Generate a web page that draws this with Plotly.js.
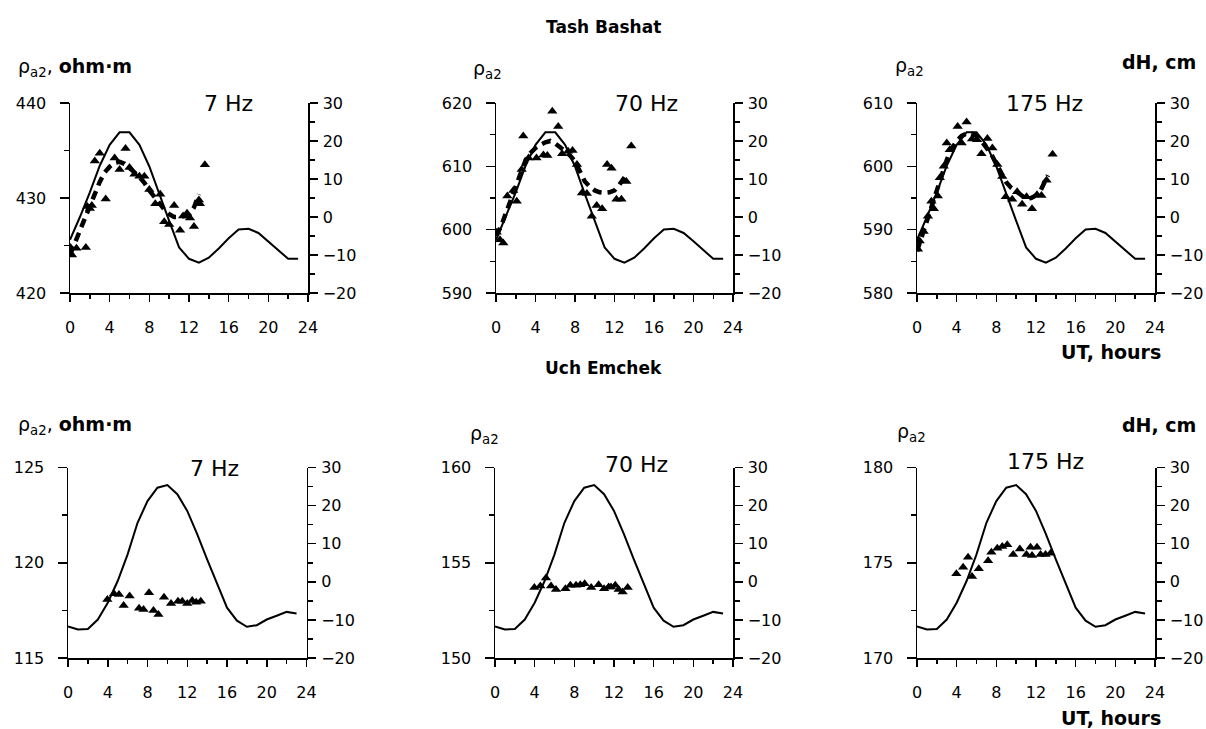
<!DOCTYPE html>
<html>
<head>
<meta charset="utf-8">
<script src="https://cdn.plot.ly/plotly-3.0.1.min.js"></script>
<style>
  html, body { margin: 0; padding: 0; background: #fff; }
  #chart { width: 1206px; height: 729px; }
</style>
</head>
<body>
<div id="chart"></div>
<script>
// Hourly tidal height variation dH (cm), UT hours 0..23
const hours = [0,1,2,3,4,5,6,7,8,9,10,11,12,13,14,15,16,17,18,19,20,21,22,23];
const dhTash = [-6, 0, 6.5, 13.5, 19, 22.3, 22.3, 19, 13.3, 6, -1, -8, -11, -12, -10.7, -8.3, -5.6, -3.3, -3.1, -4.2, -6.4, -8.8, -11, -11];
const dhUch = [-11.7, -12.5, -12.4, -9.9, -5.5, 0.2, 7.2, 15.5, 21.2, 24.7, 25.4, 23.0, 18.6, 12.5, 5.9, -0.7, -6.8, -10.2, -11.8, -11.4, -9.9, -8.9, -7.9, -8.3];

// Tash Bashat, apparent resistivity rho_a2 (ohm·m)
const tash7T = [0.05, 0.2, 0.65, 1.6, 1.75, 2.0, 2.2, 2.5, 3.0, 3.6, 4.5, 5.0, 5.6, 6.0, 6.5, 7.0, 7.5, 8.0, 8.6, 9.1, 9.5, 10.0, 10.5, 11.1, 11.4, 11.8, 12.1, 12.5, 13.0, 13.1, 13.6];
const tash7R = [424.8, 424.0, 424.7, 424.8, 429.1, 428.9, 429.2, 433.9, 434.7, 429.9, 434.2, 433.0, 435.2, 433.2, 432.5, 432.3, 432.3, 430.9, 429.4, 430.4, 427.5, 427.2, 429.2, 426.6, 428.1, 428.4, 427.9, 427.0, 429.8, 429.4, 433.5];
const tash7FitT = [0, 0.5, 1, 1.5, 2, 2.5, 3, 3.5, 4, 4.5, 5, 5.5, 6, 6.5, 7, 7.5, 8, 8.5, 9, 9.5, 10, 10.5, 11, 11.5, 12, 12.5, 13];
const tash7FitR = [424.0, 425.3, 426.7, 428.0, 429.3, 430.5, 431.7, 432.7, 433.3, 433.7, 433.8, 433.6, 433.2, 432.7, 432.2, 431.6, 430.8, 430.1, 429.4, 428.8, 428.3, 428.0, 428.0, 428.1, 428.2, 429.0, 430.4];

const tash70T = [0.07, 0.4, 0.74, 1.15, 1.75, 2.1, 2.6, 2.76, 3.3, 4.1, 4.8, 5.2, 5.7, 6.3, 6.7, 7.3, 7.75, 8.2, 8.7, 9.2, 9.7, 10.2, 10.75, 11.25, 11.7, 12.2, 12.7, 13.2, 13.7];
const tash70R = [599.6, 598.4, 597.9, 605.3, 606.2, 604.5, 609.5, 614.8, 611.3, 611.3, 611.8, 611.7, 618.7, 616.3, 612.0, 612.4, 612.5, 610.3, 605.8, 605.7, 602.1, 603.8, 603.3, 610.3, 609.7, 604.8, 604.8, 607.6, 613.2];
const tash70FitT = [0, 0.5, 1, 1.5, 2, 2.5, 3, 3.5, 4, 4.5, 5, 5.5, 6, 6.5, 7, 7.5, 8, 8.5, 9, 9.5, 10, 10.5, 11, 11.5, 12, 12.5, 13, 13.2];
const tash70FitR = [599.0, 600.5, 602.6, 604.6, 606.6, 608.8, 611.0, 612.1, 612.9, 613.4, 613.8, 614.0, 613.6, 613.0, 612.4, 611.7, 610.8, 609.0, 607.6, 606.8, 606.2, 605.9, 605.8, 605.9, 606.2, 607.1, 608.3, 608.7];

const tash175T = [0.1, 0.27, 0.67, 1.1, 1.45, 1.7, 2.1, 2.3, 2.7, 3.0, 3.3, 4.1, 4.5, 5.0, 5.55, 6.06, 6.5, 7.1, 7.6, 8.1, 8.6, 8.95, 9.6, 10.1, 10.6, 11.05, 11.6, 12.1, 12.55, 13.06, 13.67];
const tash175R = [586.9, 588.2, 589.7, 592.1, 594.5, 593.3, 595.3, 598.2, 600.0, 603.7, 602.6, 606.3, 603.7, 607.0, 604.3, 604.2, 602.0, 604.4, 602.9, 600.3, 598.4, 595.2, 594.8, 596.0, 594.0, 595.2, 593.3, 595.5, 595.4, 597.8, 601.9];
const tash175FitT = [0, 0.5, 1, 1.5, 2, 2.5, 3, 3.5, 4, 4.5, 5, 5.5, 6, 6.5, 7, 7.5, 8, 8.5, 9, 9.5, 10, 10.5, 11, 11.5, 12, 12.5, 13, 13.2];
const tash175FitR = [586.6, 589.0, 591.2, 593.6, 596.2, 598.6, 601.0, 602.8, 604.0, 604.8, 605.2, 605.2, 604.8, 604.0, 603.0, 601.9, 600.4, 598.9, 597.5, 596.6, 596.0, 595.3, 594.9, 595.0, 595.4, 596.3, 598.0, 598.6];

// Uch Emchek, apparent resistivity rho_a2 (ohm·m)
const uch7T = [3.96, 4.63, 5.13, 5.6, 6.2, 7.15, 7.6, 8.15, 8.6, 9.1, 9.66, 10.37, 11.07, 11.5, 12.0, 12.5, 12.9, 13.36];
const uch7R = [118.07, 118.37, 118.33, 117.75, 118.25, 117.61, 117.54, 118.42, 117.5, 117.28, 118.19, 117.86, 117.98, 117.98, 117.86, 118.02, 117.93, 117.98];

const uch70T = [3.97, 4.57, 5.14, 5.65, 6.15, 7.1, 7.6, 8.17, 8.6, 9.04, 9.7, 10.45, 11.0, 11.46, 11.7, 12.13, 12.47, 12.87, 13.38];
const uch70R = [153.7, 153.78, 154.2, 153.78, 153.6, 153.64, 153.82, 153.82, 153.85, 153.9, 153.7, 153.85, 153.64, 153.73, 153.73, 153.82, 153.6, 153.47, 153.7];

const uch175T = [3.97, 4.65, 5.15, 5.55, 6.23, 7.17, 7.5, 8.1, 8.6, 9.1, 9.7, 10.37, 11.04, 11.45, 11.6, 12.1, 12.46, 12.96, 13.47];
const uch175R = [174.42, 174.76, 175.29, 174.28, 174.68, 175.11, 175.55, 175.76, 175.85, 175.95, 175.43, 175.72, 175.43, 175.81, 175.38, 175.81, 175.43, 175.43, 175.5];

// Axis ranges and ticks
const xTicks = [0, 4, 8, 12, 16, 20, 24];
const rhoRanges = [[420, 440], [590, 620], [580, 610], [115, 125], [150, 160], [170, 180]];
const rhoSteps = [10, 10, 10, 5, 5, 5];
const dhRange = [-20, 30];
const freqLabels = ['7 Hz', '70 Hz', '175 Hz', '7 Hz', '70 Hz', '175 Hz'];

const W = 1206, H = 729;
const px = p => p / W;
const py = p => 1 - p / H;

// panel frames in pixels: [left, right, top, bottom]
const frames = [
  [70, 308, 103, 293], [496, 733, 103, 293], [917, 1155, 103, 293],
  [68, 306.5, 467.5, 658], [495, 733, 467.5, 658], [917, 1155, 467.5, 658]
];

const panels = [
  {dh: dhTash, t: tash7T, r: tash7R, ft: tash7FitT, fr: tash7FitR},
  {dh: dhTash, t: tash70T, r: tash70R, ft: tash70FitT, fr: tash70FitR},
  {dh: dhTash, t: tash175T, r: tash175R, ft: tash175FitT, fr: tash175FitR},
  {dh: dhUch, t: uch7T, r: uch7R},
  {dh: dhUch, t: uch70T, r: uch70R},
  {dh: dhUch, t: uch175T, r: uch175R}
];

const FONT = 'DejaVu Sans, Arial, sans-serif';
const tickFont = {family: FONT, size: 16, color: '#000'};

const traces = [];
const layout = {
  width: W, height: H,
  margin: {l: 0, r: 0, t: 0, b: 0},
  paper_bgcolor: '#fff', plot_bgcolor: 'rgba(0,0,0,0)',
  showlegend: false,
  annotations: []
};

panels.forEach((p, i) => {
  const n = i + 1;
  const xa = 'x' + n, yl = 'y' + (2 * n - 1), yr = 'y' + (2 * n);
  const [l, r, t, b] = frames[i];
  const xdom = [px(l), px(r)];
  const ydom = [py(b), py(t)];

  layout['xaxis' + n] = {
    domain: xdom, range: [0, 24], anchor: yl,
    tickvals: xTicks, ticks: 'outside', ticklen: 7, tickwidth: 1.5, tickcolor: '#000',
    minor: {dtick: 2, tick0: 0, ticks: 'outside', ticklen: 4, tickwidth: 1.5, tickcolor: '#000', showgrid: false},
    showline: true, linecolor: '#000', linewidth: 1.5,
    showgrid: false, zeroline: false, tickfont: tickFont, ticklabelstandoff: 12,
    fixedrange: true
  };
  const rr = rhoRanges[i], st = rhoSteps[i];
  layout['yaxis' + (2 * n - 1)] = {
    domain: ydom, range: rr, anchor: xa, side: 'left',
    tick0: rr[0], dtick: st, ticks: 'outside', ticklen: 9, tickwidth: 1.5, tickcolor: '#000',
    minor: {dtick: st / 2, tick0: rr[0], ticks: 'outside', ticklen: 5, tickwidth: 1.5, tickcolor: '#000', showgrid: false},
    showline: true, linecolor: '#000', linewidth: 1.5,
    showgrid: false, zeroline: false, tickfont: tickFont, ticklabelstandoff: 10,
    fixedrange: true
  };
  layout['yaxis' + (2 * n)] = {
    domain: ydom, range: dhRange, anchor: xa, overlaying: yl, side: 'right',
    tick0: -20, dtick: 10, ticks: 'outside', ticklen: 8, tickwidth: 1.5, tickcolor: '#000',
    minor: {dtick: 5, tick0: -20, ticks: 'outside', ticklen: 5, tickwidth: 1.5, tickcolor: '#000', showgrid: false},
    showline: true, linecolor: '#000', linewidth: 1.5,
    showgrid: false, zeroline: false, tickfont: tickFont, ticklabelstandoff: 2,
    fixedrange: true
  };

  // tidal curve on the right axis
  traces.push({
    x: hours, y: p.dh, xaxis: xa, yaxis: yr, type: 'scatter', mode: 'lines',
    line: {color: '#000', width: 2}, hoverinfo: 'skip'
  });
  // smoothed resistivity
  if (p.ft) {
    traces.push({
      x: p.ft, y: p.fr, xaxis: xa, yaxis: yl, type: 'scatter', mode: 'lines',
      line: {color: '#000', width: 4.5, dash: '9px,6px'}, hoverinfo: 'skip'
    });
  }
  // measured resistivity
  traces.push({
    x: p.t, y: p.r, xaxis: xa, yaxis: yl, type: 'scatter', mode: 'markers',
    marker: {symbol: 'triangle-up', size: 9, color: '#000'}, hoverinfo: 'skip'
  });
});

const ann = (text, x, y, opts) => Object.assign({
  text: text, xref: 'paper', yref: 'paper', x: px(x), y: py(y),
  showarrow: false, xanchor: 'center', yanchor: 'middle',
  font: {family: FONT, size: 16, color: '#000'}
}, opts || {});

const boldFont = {family: FONT, size: 17, color: '#000'};
const labFont = {family: FONT, size: 19, color: '#000'};

layout.annotations.push(
  ann('<b>Tash Bashat</b>', 603, 27, {font: boldFont}),
  ann('<b>Uch Emchek</b>', 603, 368, {font: boldFont}),

  ann('ρ<sub>a2</sub>, <b>ohm·m</b>', 16, 68, {xanchor: 'left', font: labFont}),
  ann('ρ<sub>a2</sub>', 471, 70, {xanchor: 'left', font: labFont}),
  ann('ρ<sub>a2</sub>', 893, 66, {xanchor: 'left', font: labFont}),
  ann('<b>dH, cm</b>', 1198, 62, {xanchor: 'right', font: labFont}),
  ann('<b>UT, hours</b>', 1163, 352, {xanchor: 'right', font: labFont}),

  ann('ρ<sub>a2</sub>, <b>ohm·m</b>', 16, 425, {xanchor: 'left', font: labFont}),
  ann('ρ<sub>a2</sub>', 468, 434, {xanchor: 'left', font: labFont}),
  ann('ρ<sub>a2</sub>', 895, 432, {xanchor: 'left', font: labFont}),
  ann('<b>dH, cm</b>', 1198, 425, {xanchor: 'right', font: labFont}),
  ann('<b>UT, hours</b>', 1163, 718, {xanchor: 'right', font: labFont})
);

const freqPos = [[228, 104], [646, 104], [1044, 104], [214, 468], [636, 464], [1045, 461]];
freqLabels.forEach((f, i) => {
  layout.annotations.push(ann(f, freqPos[i][0], freqPos[i][1], {font: {family: FONT, size: 22, color: '#000'}}));
});

Plotly.newPlot('chart', traces, layout, {staticPlot: true, displayModeBar: false});
</script>
</body>
</html>
